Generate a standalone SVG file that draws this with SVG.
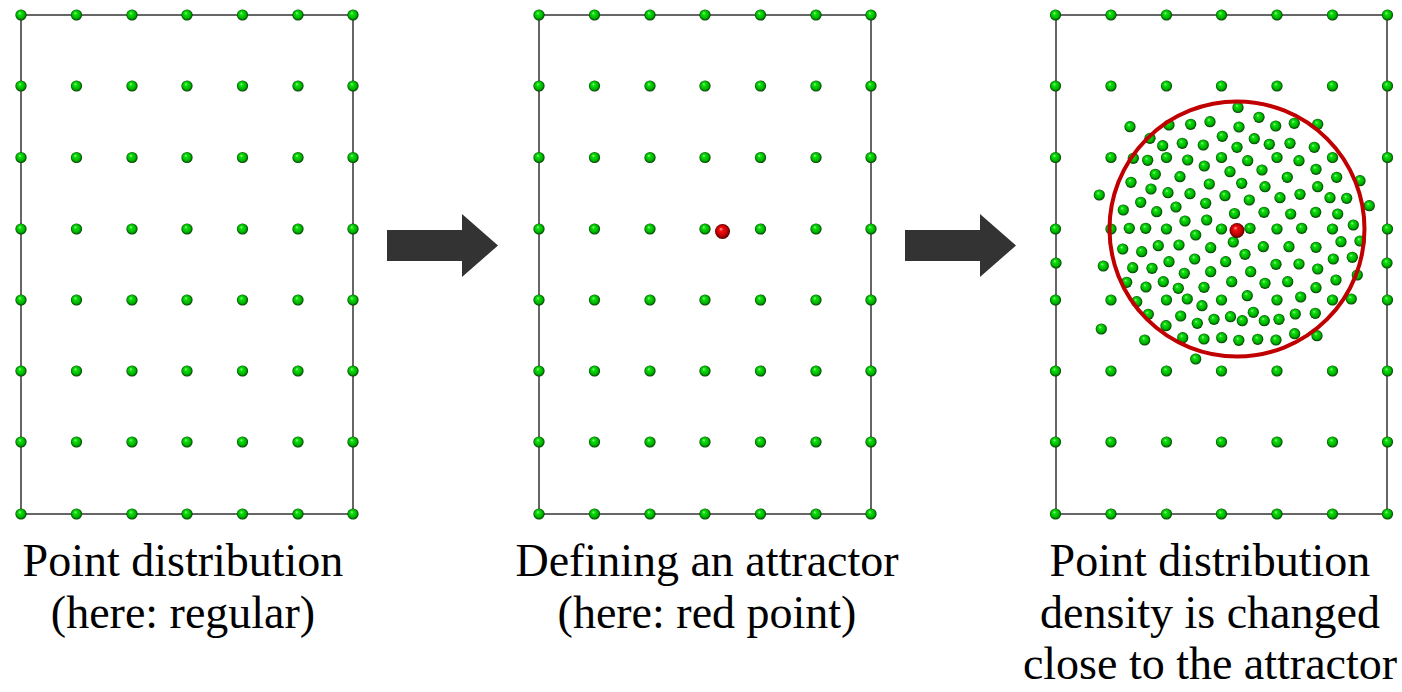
<svg xmlns="http://www.w3.org/2000/svg" xmlns:xlink="http://www.w3.org/1999/xlink" width="1402" height="692" viewBox="0 0 1402 692">
<defs>
<radialGradient id="gg" cx="0.5" cy="0.5" r="0.52" fx="0.38" fy="0.32">
<stop offset="0" stop-color="#a8ffa0"/>
<stop offset="0.25" stop-color="#10e010"/>
<stop offset="0.68" stop-color="#00b400"/>
<stop offset="0.88" stop-color="#006000"/>
<stop offset="1" stop-color="#002000"/>
</radialGradient>
<radialGradient id="rg" cx="0.5" cy="0.5" r="0.52" fx="0.38" fy="0.32">
<stop offset="0" stop-color="#ffa0a0"/>
<stop offset="0.25" stop-color="#f01010"/>
<stop offset="0.68" stop-color="#c00000"/>
<stop offset="0.88" stop-color="#700000"/>
<stop offset="1" stop-color="#300000"/>
</radialGradient>
<circle id="p" r="5.6" fill="url(#gg)"/>
<g id="grid">
<use href="#p" x="0" y="15"/><use href="#p" x="55.5" y="15"/><use href="#p" x="111" y="15"/><use href="#p" x="166" y="15"/><use href="#p" x="221.5" y="15"/><use href="#p" x="277" y="15"/><use href="#p" x="332" y="15"/>
<use href="#p" x="0" y="86"/><use href="#p" x="55.5" y="86"/><use href="#p" x="111" y="86"/><use href="#p" x="166" y="86"/><use href="#p" x="221.5" y="86"/><use href="#p" x="277" y="86"/><use href="#p" x="332" y="86"/>
<use href="#p" x="0" y="157.5"/><use href="#p" x="55.5" y="157.5"/><use href="#p" x="111" y="157.5"/><use href="#p" x="166" y="157.5"/><use href="#p" x="221.5" y="157.5"/><use href="#p" x="277" y="157.5"/><use href="#p" x="332" y="157.5"/>
<use href="#p" x="0" y="229"/><use href="#p" x="55.5" y="229"/><use href="#p" x="111" y="229"/><use href="#p" x="166" y="229"/><use href="#p" x="221.5" y="229"/><use href="#p" x="277" y="229"/><use href="#p" x="332" y="229"/>
<use href="#p" x="0" y="300"/><use href="#p" x="55.5" y="300"/><use href="#p" x="111" y="300"/><use href="#p" x="166" y="300"/><use href="#p" x="221.5" y="300"/><use href="#p" x="277" y="300"/><use href="#p" x="332" y="300"/>
<use href="#p" x="0" y="371"/><use href="#p" x="55.5" y="371"/><use href="#p" x="111" y="371"/><use href="#p" x="166" y="371"/><use href="#p" x="221.5" y="371"/><use href="#p" x="277" y="371"/><use href="#p" x="332" y="371"/>
<use href="#p" x="0" y="442"/><use href="#p" x="55.5" y="442"/><use href="#p" x="111" y="442"/><use href="#p" x="166" y="442"/><use href="#p" x="221.5" y="442"/><use href="#p" x="277" y="442"/><use href="#p" x="332" y="442"/>
<use href="#p" x="0" y="514"/><use href="#p" x="55.5" y="514"/><use href="#p" x="111" y="514"/><use href="#p" x="166" y="514"/><use href="#p" x="221.5" y="514"/><use href="#p" x="277" y="514"/><use href="#p" x="332" y="514"/>
</g>
</defs>
<style>
.frame{fill:none;stroke:#666666;stroke-width:2}
.lbl{font-family:"Liberation Serif","Times New Roman",serif;font-size:46px;fill:#000;text-anchor:middle}
.arrow{fill:#333333}
.ring{fill:none;stroke:#c00000;stroke-width:4}
</style>
<rect width="1402" height="692" fill="#ffffff"/>

<g id="panel1">
<rect class="frame" x="21" y="15" width="332" height="499"/>
<use href="#grid" x="21" y="0"/>
<text class="lbl" x="183" y="576">Point distribution</text>
<text class="lbl" x="183" y="628">(here: regular)</text>
</g>

<g id="panel2">
<rect class="frame" x="539" y="15" width="332" height="499"/>
<use href="#grid" x="539" y="0"/>
<circle cx="722.5" cy="231.5" r="7.5" fill="url(#rg)"/>
<text class="lbl" x="707" y="576">Defining an attractor</text>
<text class="lbl" x="707" y="628">(here: red point)</text>
</g>

<g id="panel3">
<rect class="frame" x="1056" y="15" width="331" height="499"/>
<use href="#grid" x="1055.5" y="0"/>
<use href="#p" x="1056" y="263"/><use href="#p" x="1387" y="263"/>
<g id="dense">
<use href="#p" x="1238" y="107.5"/><use href="#p" x="1130" y="126.7"/><use href="#p" x="1169" y="125"/><use href="#p" x="1190.7" y="124.3"/><use href="#p" x="1210" y="121.7"/><use href="#p" x="1239" y="127"/>
<use href="#p" x="1150" y="138.3"/><use href="#p" x="1162.7" y="145.7"/><use href="#p" x="1182.3" y="143.3"/><use href="#p" x="1203.3" y="145"/><use href="#p" x="1222.3" y="136.3"/><use href="#p" x="1237" y="147.3"/>
<use href="#p" x="1133.3" y="158.3"/><use href="#p" x="1147.7" y="160.3"/><use href="#p" x="1187.7" y="160"/><use href="#p" x="1204.3" y="166"/><use href="#p" x="1155.3" y="174.3"/><use href="#p" x="1180" y="176.7"/>
<use href="#p" x="1230" y="171.7"/><use href="#p" x="1131" y="182.3"/><use href="#p" x="1209.3" y="184"/><use href="#p" x="1099.3" y="195"/><use href="#p" x="1151" y="189"/><use href="#p" x="1168" y="192.7"/>
<use href="#p" x="1190" y="193.7"/><use href="#p" x="1225" y="195.7"/><use href="#p" x="1140.7" y="202.3"/><use href="#p" x="1123.3" y="210"/><use href="#p" x="1156.7" y="211.7"/><use href="#p" x="1176" y="207"/>
<use href="#p" x="1205.7" y="203.3"/><use href="#p" x="1234.5" y="213.5"/><use href="#p" x="1185" y="221"/><use href="#p" x="1206.7" y="220"/><use href="#p" x="1129.3" y="228.3"/><use href="#p" x="1145.7" y="228.3"/>
<use href="#p" x="1259" y="117.3"/><use href="#p" x="1275.7" y="126"/><use href="#p" x="1294.3" y="123.3"/><use href="#p" x="1317.7" y="124.3"/><use href="#p" x="1254.3" y="138.7"/><use href="#p" x="1269.3" y="144.3"/>
<use href="#p" x="1290" y="143.3"/><use href="#p" x="1314.3" y="147.3"/><use href="#p" x="1247.7" y="160.7"/><use href="#p" x="1299" y="160.7"/><use href="#p" x="1262" y="170"/><use href="#p" x="1287.3" y="177.3"/>
<use href="#p" x="1316" y="169.3"/><use href="#p" x="1336.7" y="177.3"/><use href="#p" x="1360" y="180.7"/><use href="#p" x="1241.7" y="183.3"/><use href="#p" x="1265" y="186.7"/><use href="#p" x="1317.7" y="186.7"/>
<use href="#p" x="1300" y="194.3"/><use href="#p" x="1280" y="197.7"/><use href="#p" x="1330" y="197.7"/><use href="#p" x="1346.7" y="198.3"/><use href="#p" x="1369.3" y="205.7"/><use href="#p" x="1249.3" y="200"/>
<use href="#p" x="1264" y="212.3"/><use href="#p" x="1290.7" y="214"/><use href="#p" x="1315.7" y="212.3"/><use href="#p" x="1337.7" y="214"/><use href="#p" x="1353.3" y="225"/><use href="#p" x="1250" y="228.3"/>
<use href="#p" x="1301.7" y="228.3"/><use href="#p" x="1195.7" y="235"/><use href="#p" x="1233.3" y="242"/><use href="#p" x="1122.7" y="249"/><use href="#p" x="1141.7" y="251.7"/><use href="#p" x="1158.3" y="245.7"/>
<use href="#p" x="1179" y="245"/><use href="#p" x="1210.7" y="247.7"/><use href="#p" x="1103.3" y="266"/><use href="#p" x="1132.7" y="267.7"/><use href="#p" x="1152" y="268.3"/><use href="#p" x="1169" y="261.7"/>
<use href="#p" x="1194.7" y="259"/><use href="#p" x="1225.7" y="261.7"/><use href="#p" x="1184.3" y="273.3"/><use href="#p" x="1210.7" y="271.7"/><use href="#p" x="1126.7" y="282.3"/><use href="#p" x="1146" y="287"/>
<use href="#p" x="1163.3" y="281.7"/><use href="#p" x="1178.3" y="288.3"/><use href="#p" x="1204" y="287.3"/><use href="#p" x="1231.7" y="281.7"/><use href="#p" x="1136.7" y="301.7"/><use href="#p" x="1187.3" y="299"/>
<use href="#p" x="1202" y="305.7"/><use href="#p" x="1148.3" y="314.3"/><use href="#p" x="1180.7" y="316"/><use href="#p" x="1197.3" y="323.3"/><use href="#p" x="1214" y="319.3"/><use href="#p" x="1230.5" y="316.7"/>
<use href="#p" x="1101.3" y="329"/><use href="#p" x="1166" y="325.7"/><use href="#p" x="1144.7" y="340"/><use href="#p" x="1182.7" y="337.7"/><use href="#p" x="1204" y="339"/><use href="#p" x="1221.7" y="337.7"/>
<use href="#p" x="1238.8" y="340.3"/><use href="#p" x="1195.7" y="359"/><use href="#p" x="1263.3" y="246.7"/><use href="#p" x="1289" y="246.7"/><use href="#p" x="1316" y="247.3"/><use href="#p" x="1341" y="241.7"/>
<use href="#p" x="1360" y="241"/><use href="#p" x="1245" y="254.3"/><use href="#p" x="1276" y="264.3"/><use href="#p" x="1299" y="264"/><use href="#p" x="1317.7" y="269"/><use href="#p" x="1333.3" y="259"/>
<use href="#p" x="1352.3" y="257.3"/><use href="#p" x="1250.7" y="271.7"/><use href="#p" x="1265" y="283.3"/><use href="#p" x="1287.7" y="281.7"/><use href="#p" x="1316" y="287.7"/><use href="#p" x="1336" y="280"/>
<use href="#p" x="1357.3" y="275"/><use href="#p" x="1247.3" y="295.7"/><use href="#p" x="1300.7" y="297"/><use href="#p" x="1351.3" y="299"/><use href="#p" x="1242.3" y="320.7"/><use href="#p" x="1253.3" y="312.3"/>
<use href="#p" x="1264.3" y="320.7"/><use href="#p" x="1279" y="319.3"/><use href="#p" x="1295.3" y="314"/><use href="#p" x="1315.3" y="313.3"/><use href="#p" x="1257.7" y="339.3"/><use href="#p" x="1276" y="340"/>
<use href="#p" x="1294.7" y="333.7"/><use href="#p" x="1317" y="335.7"/>
</g>
<circle class="ring" cx="1237" cy="229" r="127.5"/>
<circle cx="1237" cy="230.5" r="7.5" fill="url(#rg)"/>
<text class="lbl" x="1210" y="576">Point distribution</text>
<text class="lbl" x="1210" y="628">density is changed</text>
<text class="lbl" x="1210" y="679">close to the attractor</text>
</g>

<g id="connectors">
<polygon class="arrow" points="387,230 462,230 462,214 498,245.5 462,277 462,261 387,261"/>
<polygon class="arrow" points="905,230 980,230 980,214 1016,245.5 980,277 980,261 905,261"/>
</g>
</svg>
